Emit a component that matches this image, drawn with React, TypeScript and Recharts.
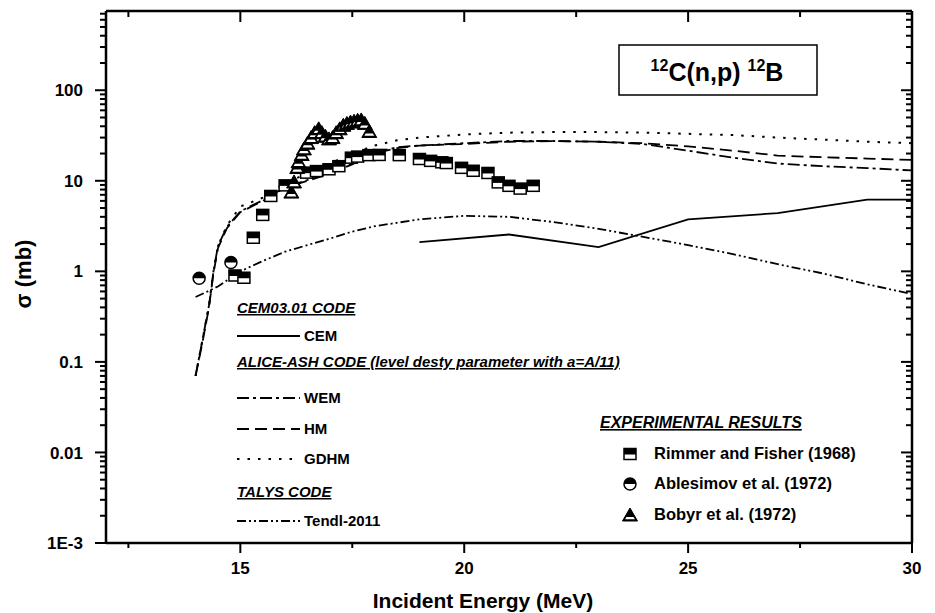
import { ComposedChart, Line, Scatter, XAxis, YAxis, ReferenceLine } from 'recharts';

// 12C(n,p)12B 반응 단면적 — 계산값과 실험값 비교
const FONT = '"Liberation Sans", Arial, Helvetica, sans-serif';
const W = 935;
const H = 613;
const MARGIN = { top: 11, right: 23, bottom: 30, left: 46 };
const PLOT_TOP = MARGIN.top;
const PLOT_RIGHT = W - MARGIN.right;

// 축 눈금
const X_TICKS = [12.5, 15, 17.5, 20, 22.5, 25, 27.5, 30];
const X_LABELS = [15, 20, 25, 30];
const Y_DECADES = [0.001, 0.01, 0.1, 1, 10, 100];
const Y_MINOR = Y_DECADES.flatMap((d) => [2, 3, 4, 5, 6, 7, 8, 9].map((m) => +(m * d).toPrecision(3))).filter((v) => v < 750);
const Y_TICKS = [...Y_DECADES, ...Y_MINOR].sort((a, b) => a - b);

// CEM03.01
const cemData = [
  { e: 19, s: 2.1 }, { e: 21, s: 2.55 }, { e: 23, s: 1.85 }, { e: 25, s: 3.75 },
  { e: 27, s: 4.4 }, { e: 29, s: 6.2 }, { e: 30, s: 6.2 },
];

// ALICE-ASH : WEM
const wemData = [
  { e: 14.0, s: 0.07 }, { e: 14.15, s: 0.17 }, { e: 14.3, s: 0.42 }, { e: 14.4, s: 1.0 },
  { e: 14.5, s: 1.9 }, { e: 14.7, s: 3.1 }, { e: 15, s: 4.6 }, { e: 15.5, s: 6.1 },
  { e: 16, s: 8.5 }, { e: 16.5, s: 10.2 }, { e: 17, s: 12.2 }, { e: 17.5, s: 15.5 },
  { e: 18, s: 20.5 }, { e: 18.5, s: 23.5 }, { e: 19, s: 24.5 }, { e: 20, s: 26 },
  { e: 21, s: 27.5 }, { e: 22, s: 27.5 }, { e: 23, s: 27 }, { e: 24, s: 25.5 },
  { e: 25, s: 21.5 }, { e: 26, s: 18 }, { e: 27, s: 15.5 }, { e: 28, s: 14.5 },
  { e: 29, s: 13.8 }, { e: 30, s: 13 },
];

// ALICE-ASH : HM
const hmData = [
  { e: 14.0, s: 0.07 }, { e: 14.15, s: 0.16 }, { e: 14.3, s: 0.4 }, { e: 14.4, s: 0.95 },
  { e: 14.5, s: 1.8 }, { e: 14.7, s: 3.0 }, { e: 15, s: 4.5 }, { e: 15.5, s: 6.0 },
  { e: 16, s: 8.4 }, { e: 16.5, s: 10 }, { e: 17, s: 12 }, { e: 17.5, s: 15.2 },
  { e: 18, s: 20 }, { e: 18.5, s: 23 }, { e: 19, s: 24.5 }, { e: 20, s: 25.5 },
  { e: 21, s: 27 }, { e: 22, s: 27.5 }, { e: 23, s: 27 }, { e: 24, s: 26 },
  { e: 25, s: 24 }, { e: 26, s: 21.5 }, { e: 27, s: 19 }, { e: 28, s: 18.2 },
  { e: 29, s: 17.6 }, { e: 30, s: 17 },
];

// ALICE-ASH : GDHM
const gdhmData = [
  { e: 14.0, s: 0.07 }, { e: 14.15, s: 0.17 }, { e: 14.3, s: 0.42 }, { e: 14.4, s: 1.0 },
  { e: 14.5, s: 1.9 }, { e: 14.7, s: 3.2 }, { e: 15, s: 5.2 }, { e: 15.5, s: 6.5 },
  { e: 16, s: 9.5 }, { e: 16.5, s: 12 }, { e: 17, s: 15.5 }, { e: 17.5, s: 20 },
  { e: 18, s: 24.5 }, { e: 18.5, s: 28 }, { e: 19, s: 30 }, { e: 20, s: 32.5 },
  { e: 21, s: 34 }, { e: 22, s: 34.5 }, { e: 23, s: 34.5 }, { e: 24, s: 34 },
  { e: 25, s: 33 }, { e: 26, s: 32 }, { e: 27, s: 30 }, { e: 28, s: 28.5 },
  { e: 29, s: 27 }, { e: 30, s: 26 },
];

// TALYS : Tendl-2011
const tendlData = [
  { e: 14, s: 0.52 }, { e: 14.5, s: 0.68 }, { e: 15, s: 1.0 }, { e: 15.5, s: 1.3 },
  { e: 16, s: 1.65 }, { e: 16.5, s: 1.95 }, { e: 17, s: 2.3 }, { e: 17.5, s: 2.75 },
  { e: 18, s: 3.15 }, { e: 19, s: 3.75 }, { e: 20, s: 4.1 }, { e: 21, s: 4.0 },
  { e: 22, s: 3.5 }, { e: 23, s: 2.95 }, { e: 24, s: 2.4 }, { e: 25, s: 1.95 },
  { e: 26, s: 1.55 }, { e: 27, s: 1.2 }, { e: 28, s: 0.95 }, { e: 29, s: 0.72 },
  { e: 30, s: 0.56 },
];

// 실험값
const rimmerData = [
  { e: 14.88, s: 0.9 }, { e: 15.08, s: 0.85 }, { e: 15.29, s: 2.35 }, { e: 15.5, s: 4.2 },
  { e: 15.68, s: 6.8 }, { e: 16.0, s: 8.9 }, { e: 16.48, s: 12.3 }, { e: 16.7, s: 12.8 },
  { e: 16.98, s: 13.4 }, { e: 17.2, s: 14.5 }, { e: 17.48, s: 18 }, { e: 17.62, s: 18.5 },
  { e: 17.87, s: 19.2 }, { e: 18.1, s: 19.3 }, { e: 18.55, s: 19.2 }, { e: 19.0, s: 17.4 },
  { e: 19.25, s: 16.6 }, { e: 19.5, s: 16.0 }, { e: 19.6, s: 15.7 }, { e: 19.94, s: 13.9 },
  { e: 20.2, s: 12.9 }, { e: 20.53, s: 12.2 }, { e: 20.76, s: 9.6 }, { e: 21.0, s: 8.8 },
  { e: 21.25, s: 8.2 }, { e: 21.54, s: 8.8 },
];
const ablesimovData = [{ e: 14.08, s: 0.84 }, { e: 14.79, s: 1.25 }];
const bobyrData = [
  { e: 16.14, s: 7.5 }, { e: 16.2, s: 9.7 }, { e: 16.27, s: 14 }, { e: 16.3, s: 16.2 },
  { e: 16.37, s: 19.5 }, { e: 16.42, s: 22.5 }, { e: 16.5, s: 26 }, { e: 16.58, s: 30 },
  { e: 16.66, s: 34 }, { e: 16.75, s: 37.5 }, { e: 16.82, s: 34 }, { e: 16.9, s: 31 },
  { e: 16.98, s: 29 }, { e: 17.06, s: 30 }, { e: 17.14, s: 34 }, { e: 17.22, s: 37.5 },
  { e: 17.3, s: 41 }, { e: 17.38, s: 43 }, { e: 17.46, s: 44.5 }, { e: 17.54, s: 45.5 },
  { e: 17.62, s: 46.5 }, { e: 17.7, s: 47 }, { e: 17.78, s: 43 }, { e: 17.88, s: 35 },
];

const DASH = {
  wem: '12 4 3 4',
  hm: '12 6',
  gdhm: '2.5 8',
  tendl: '9 3 2 3 2 3',
};

function fmtY(v: number) {
  if (v === 0.001) return '1E-3';
  return String(v);
}

// 아래/위 x축 눈금 (위쪽은 안쪽으로)
function XTick(props: any) {
  const { x, y, payload } = props;
  const v = payload.value;
  const major = X_LABELS.includes(v);
  const len = major ? 10 : 5;
  return (
    <g>
      <line x1={x} x2={x} y1={y} y2={y + len} stroke="#000" strokeWidth={2} />
      <line x1={x} x2={x} y1={PLOT_TOP} y2={PLOT_TOP + len + 1} stroke="#000" strokeWidth={2} />
      {major && (
        <text x={x} y={y + 31} textAnchor="middle" fontFamily={FONT} fontWeight="bold" fontSize={17} fill="#000">
          {v}
        </text>
      )}
    </g>
  );
}

// 왼쪽/오른쪽 y축 눈금 (오른쪽은 안쪽으로)
function YTick(props: any) {
  const { x, y, payload } = props;
  const v = payload.value;
  const major = Y_DECADES.includes(v);
  const len = major ? 11 : 6;
  return (
    <g>
      <line x1={x} x2={x - len} y1={y} y2={y} stroke="#000" strokeWidth={2} />
      <line x1={PLOT_RIGHT} x2={PLOT_RIGHT - len} y1={y} y2={y} stroke="#000" strokeWidth={2} />
      {major && (
        <text x={x - 23} y={y} dy="0.36em" textAnchor="end" fontFamily={FONT} fontWeight="bold" fontSize={17} fill="#000">
          {fmtY(v)}
        </text>
      )}
    </g>
  );
}

function SquareMark({ cx, cy }: any) {
  return (
    <g>
      <rect x={cx - 6} y={cy - 5.5} width={12} height={11} fill="#fff" stroke="#000" strokeWidth={1.5} />
      <rect x={cx - 6} y={cy - 5.5} width={12} height={6} fill="#000" />
    </g>
  );
}

function CircleMark({ cx, cy }: any) {
  const r = 6;
  return (
    <g>
      <circle cx={cx} cy={cy} r={r} fill="#fff" stroke="#000" strokeWidth={1.5} />
      <path d={`M${cx - r},${cy} A${r},${r} 0 0 1 ${cx + r},${cy} Z`} fill="#000" />
    </g>
  );
}

function TriMark({ cx, cy }: any) {
  const top = cy - 7;
  const h = 13;
  const hw = 7.5;
  const w = (yy: number) => (hw * (yy - top)) / h - 1.6;
  const y1 = cy + 2;
  const y2 = cy + 4.3;
  return (
    <g>
      <polygon points={`${cx},${top} ${cx + hw},${top + h} ${cx - hw},${top + h}`} fill="#000" stroke="#000" strokeWidth={1} />
      <polygon points={`${cx - w(y1)},${y1} ${cx + w(y1)},${y1} ${cx + w(y2)},${y2} ${cx - w(y2)},${y2}`} fill="#fff" />
    </g>
  );
}

function Legend() {
  const t = { fontFamily: FONT, fontWeight: 'bold' as const, fontSize: 15, fill: '#000' };
  const head = { ...t, fontStyle: 'italic' as const, textDecoration: 'underline' };
  const sample = (y: number, dash?: string) => (
    <line x1={237} x2={300} y1={y} y2={y} stroke="#000" strokeWidth={2} strokeDasharray={dash} />
  );
  return (
    <svg width={W} height={H} style={{ position: 'absolute', left: 0, top: 0, pointerEvents: 'none' }}>
      {/* 반응식 상자 */}
      <rect x={619} y={45} width={198} height={50} fill="#fff" stroke="#000" strokeWidth={1.5} />
      <text x={717} y={81} textAnchor="middle" fontFamily={FONT} fontWeight="bold" fontSize={25} fill="#000">
        <tspan fontSize={16} dy={-10}>12</tspan>
        <tspan dy={10}>C(n,p) </tspan>
        <tspan fontSize={16} dy={-10}>12</tspan>
        <tspan dy={10}>B</tspan>
      </text>

      {/* 계산 코드 범례 */}
      <text x={237} y={313} {...head}>CEM03.01 CODE</text>
      {sample(336)}
      <text x={304} y={341} {...t}>CEM</text>
      <text x={237} y={367} {...head}>ALICE-ASH CODE (level desty parameter with a=A/11)</text>
      {sample(398, DASH.wem)}
      <text x={304} y={403} {...t}>WEM</text>
      {sample(429, DASH.hm)}
      <text x={304} y={434} {...t}>HM</text>
      {sample(459, DASH.gdhm)}
      <text x={304} y={464} {...t}>GDHM</text>
      <text x={237} y={497} {...head}>TALYS CODE</text>
      {sample(521, DASH.tendl)}
      <text x={304} y={526} {...t}>Tendl-2011</text>

      {/* 실험값 범례 */}
      <text x={600} y={428} {...head} fontSize={16}>EXPERIMENTAL RESULTS</text>
      <SquareMark cx={630} cy={454} />
      <text x={654} y={459} {...t} fontSize={16.5}>Rimmer and Fisher (1968)</text>
      <CircleMark cx={630} cy={484} />
      <text x={654} y={489} {...t} fontSize={16.5}>Ablesimov et al. (1972)</text>
      <TriMark cx={630} cy={515} />
      <text x={654} y={520} {...t} fontSize={16.5}>Bobyr et al. (1972)</text>

      {/* 축 제목 */}
      <text x={483} y={608} textAnchor="middle" fontFamily={FONT} fontWeight="bold" fontSize={21} fill="#000">
        Incident Energy (MeV)
      </text>
      <text
        x={0}
        y={0}
        transform="translate(31,274) rotate(-90)"
        textAnchor="middle"
        fontFamily={FONT}
        fontWeight="bold"
        fontSize={22}
        fill="#000"
      >
        σ (mb)
      </text>
    </svg>
  );
}

export default function App() {
  return (
    <div style={{ position: 'absolute', left: 0, top: 0, width: W, height: H, background: '#fff' }}>
      <ComposedChart width={W} height={H} margin={MARGIN}>
        <XAxis
          type="number"
          dataKey="e"
          domain={[12, 30]}
          ticks={X_TICKS}
          interval={0}
          allowDataOverflow
          height={40}
          tickLine={false}
          tickSize={0}
          tickMargin={0}
          tick={<XTick />}
          axisLine={{ stroke: '#000', strokeWidth: 2.5 }}
        />
        <YAxis
          type="number"
          dataKey="s"
          scale="log"
          domain={[0.001, 750]}
          ticks={Y_TICKS}
          interval={0}
          allowDataOverflow
          width={60}
          tickLine={false}
          tickSize={0}
          tickMargin={0}
          tick={<YTick />}
          axisLine={{ stroke: '#000', strokeWidth: 2.5 }}
        />
        <ReferenceLine x={30} stroke="#000" strokeWidth={2.5} />
        <ReferenceLine y={750} stroke="#000" strokeWidth={2.5} />

        <Line data={cemData} dataKey="s" stroke="#000" strokeWidth={1.8} dot={false} isAnimationActive={false} />
        <Line data={wemData} dataKey="s" stroke="#000" strokeWidth={1.8} strokeDasharray={DASH.wem} dot={false} isAnimationActive={false} />
        <Line data={hmData} dataKey="s" stroke="#000" strokeWidth={1.8} strokeDasharray={DASH.hm} dot={false} isAnimationActive={false} />
        <Line data={gdhmData} dataKey="s" stroke="#000" strokeWidth={2} strokeDasharray={DASH.gdhm} dot={false} isAnimationActive={false} />
        <Line data={tendlData} dataKey="s" stroke="#000" strokeWidth={1.8} strokeDasharray={DASH.tendl} dot={false} isAnimationActive={false} />

        <Scatter data={rimmerData} dataKey="s" shape={(p: any) => <SquareMark {...p} />} isAnimationActive={false} />
        <Scatter data={ablesimovData} dataKey="s" shape={(p: any) => <CircleMark {...p} />} isAnimationActive={false} />
        <Scatter data={bobyrData} dataKey="s" shape={(p: any) => <TriMark {...p} />} isAnimationActive={false} />
      </ComposedChart>
      <Legend />
    </div>
  );
}
